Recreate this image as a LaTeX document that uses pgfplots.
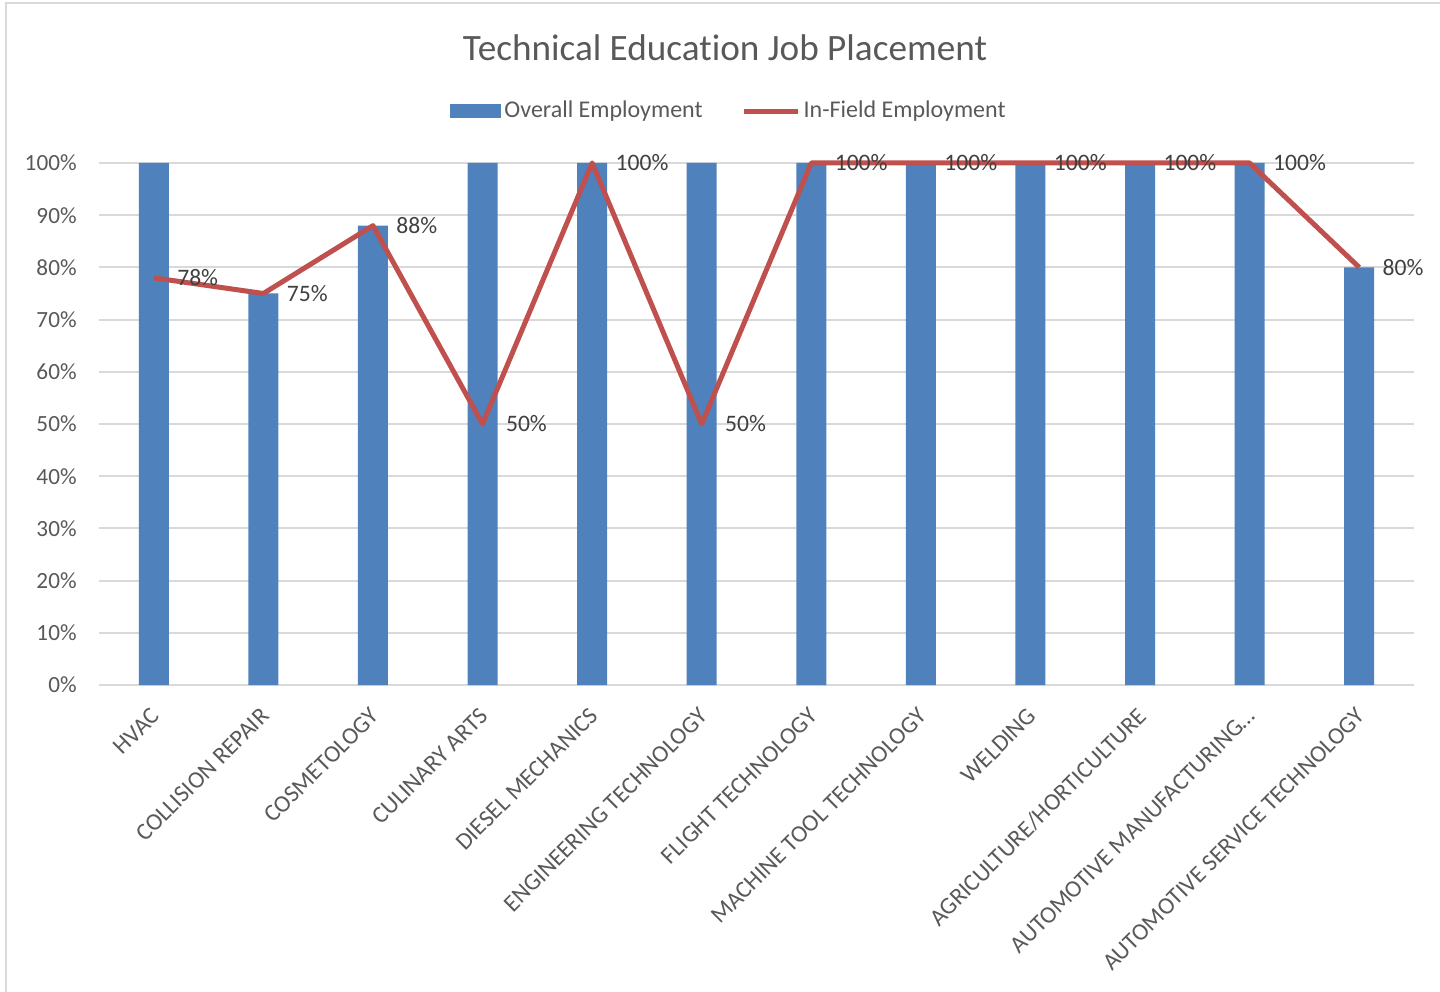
\documentclass[border=0pt]{standalone}
\usepackage{fontspec}
\setmainfont{Carlito}[Ligatures=NoCommon]
\usepackage{pgfplots}
\pgfplotsset{compat=1.18}

\definecolor{barblue}{HTML}{4F81BD}
\definecolor{linered}{HTML}{C0504D}
\definecolor{txtgrey}{HTML}{595959}
\definecolor{lblgrey}{HTML}{404040}
\definecolor{gridgrey}{HTML}{D9D9D9}

\begin{document}
\begin{tikzpicture}[x=0.5pt,y=0.5pt]
\useasboundingbox (0,0) rectangle (1440,991);
\draw[gridgrey, line width=1.2pt] (6,-10) -- (6,988) -- (1450,988);
\node[txtgrey, font=\fontsize{18.6}{21}\selectfont] at (725,943) {Technical Education Job Placement};

\begin{axis}[
    at={(49.5pt,153pt)}, anchor=south west,
    width=657.5pt, height=261pt, scale only axis,
    xmin=-0.5, xmax=11.5,
    ymin=0, ymax=100,
    xtick={0,...,11},
    xticklabels={HVAC, COLLISION REPAIR, COSMETOLOGY, CULINARY ARTS, DIESEL MECHANICS,
        ENGINEERING TECHNOLOGY, FLIGHT TECHNOLOGY, MACHINE TOOL TECHNOLOGY, WELDING,
        AGRICULTURE/HORTICULTURE, AUTOMOTIVE MANUFACTURING…, AUTOMOTIVE SERVICE TECHNOLOGY},
    ytick={0,10,...,100},
    yticklabel={\pgfmathprintnumber{\tick}\%},
    /pgf/number format/assume math mode=true,
    major tick length=0pt,
    ymajorgrids=true,
    grid style={gridgrey, line width=1pt},
    axis x line*=bottom, axis y line*=left,
    x axis line style={gridgrey, line width=1pt, -},
    y axis line style={draw=none},
    tick label style={txtgrey, font=\fontsize{11.6}{14}\selectfont},
    yticklabel style={anchor=east, inner sep=0pt, xshift=-11pt},
    % shifts are in the rotated frame of the label
    xticklabel style={rotate=45, anchor=north east, inner sep=0pt,
        font=\fontsize{12}{14}\selectfont, xshift=-8.8pt, yshift=-6pt},
    clip=false,
    legend style={at={(0.4795,1.0996)}, anchor=center, draw=none, fill=none,
        legend columns=2, font=\fontsize{12}{14}\selectfont, text=txtgrey,
        /tikz/every even column/.append style={column sep=18pt},
        nodes={inner sep=1.5pt}},
]
\addplot[ybar, bar width=15pt, fill=barblue, draw=none,
    legend image code/.code={\fill[barblue] (0pt,-3.5pt) rectangle (25.5pt,3.5pt);}]
    coordinates {(0,100)(1,75)(2,88)(3,100)(4,100)(5,100)(6,100)(7,100)(8,100)(9,100)(10,100)(11,80)};
\addlegendentry{Overall Employment}
\addplot[linered, line width=2.5pt, line join=round, mark=none,
    nodes near coords={\pgfmathprintnumber{\pgfplotspointmeta}\%},
    every node near coord/.append style={anchor=west, inner sep=0pt, xshift=10.5pt,
        text=lblgrey, font=\fontsize{11.8}{14}\selectfont},
    legend image code/.code={\draw[linered, line width=2.5pt] (0pt,0pt) -- (27pt,0pt);}]
    coordinates {(0,78)(1,75)(2,88)(3,50)(4,100)(5,50)(6,100)(7,100)(8,100)(9,100)(10,100)(11,80)};
\addlegendentry{In-Field Employment}
\end{axis}
\end{tikzpicture}
\end{document}
